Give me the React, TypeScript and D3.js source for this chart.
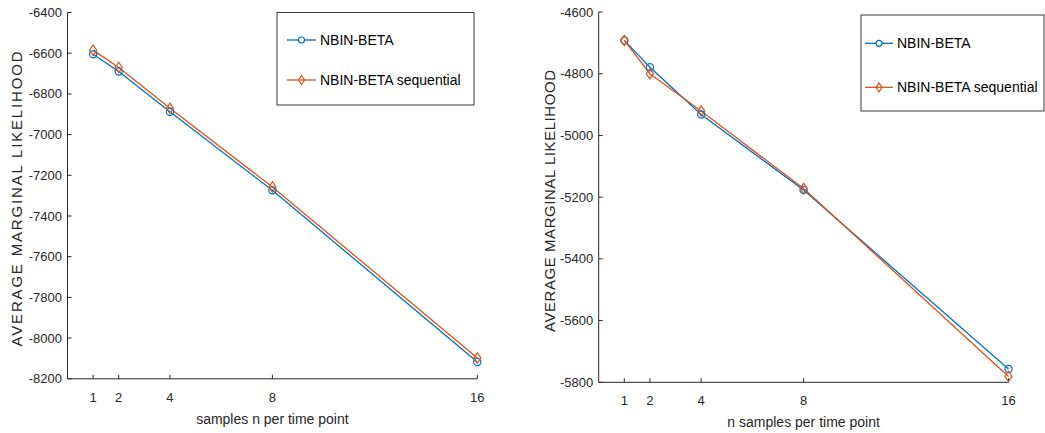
import React from "react";
import * as d3 from "d3";

const xValues = [1, 2, 4, 8, 16];
const xTicks = [1, 2, 4, 8, 16];

const leftSeriesA = [-6605, -6690, -6888, -7274, -8117];
const leftSeriesB = [-6585, -6670, -6871, -7257, -8098];
const leftYTicks = [-6400, -6600, -6800, -7000, -7200, -7400, -7600, -7800, -8000, -8200];

const rightSeriesA = [-4692, -4779, -4932, -5177, -5757];
const rightSeriesB = [-4692, -4800, -4921, -5172, -5781];
const rightYTicks = [-4600, -4800, -5000, -5200, -5400, -5600, -5800];

const seriesNames = ["NBIN-BETA", "NBIN-BETA sequential"];
const BLUE = "#0072BD";
const ORANGE = "#D95319";
const AX = "#262626";
const FONT = "'Liberation Sans', Arial, Helvetica, sans-serif";

type PanelProps = {
  px0: number; px1: number; py0: number; py1: number;
  yDomain: [number, number];
  yTicks: number[];
  a: number[]; b: number[];
  xlabel: string;
  ylabelX: number; ylabelY: number; ylabelLen: number;
  legend: { x0: number; x1: number; y0: number; y1: number; lx0: number; lx1: number; tx: number; ya: number; yb: number };
};

function Diamond({ cx, cy, w, h, color }: { cx: number; cy: number; w: number; h: number; color: string }) {
  return (
    <polygon
      points={`${cx},${cy - h} ${cx + w},${cy} ${cx},${cy + h} ${cx - w},${cy}`}
      fill="none"
      stroke={color}
      strokeWidth={1.2}
    />
  );
}

function Panel(p: PanelProps) {
  const x = d3.scaleLinear().domain([0, 16]).range([p.px0, p.px1]);
  const y = d3.scaleLinear().domain(p.yDomain).range([p.py0, p.py1]);
  const line = d3
    .line<number>()
    .x((_, i) => x(xValues[i]))
    .y((d) => y(d));
  const L = p.legend;
  const lm = (L.lx0 + L.lx1) / 2;
  return (
    <g fontFamily={FONT}>
      {/* axes */}
      <line x1={p.px0} x2={p.px0} y1={p.py0} y2={p.py1} stroke={AX} strokeWidth={1} />
      <line x1={p.px0} x2={p.px1} y1={p.py1} y2={p.py1} stroke={AX} strokeWidth={1} />
      {p.yTicks.map((t) => (
        <g key={t}>
          <line x1={p.px0} x2={p.px0 + 4} y1={y(t)} y2={y(t)} stroke={AX} />
          <text x={p.px0 - 5.5} y={y(t)} dy="0.35em" textAnchor="end" fontSize={13} fill={AX}>
            {t}
          </text>
        </g>
      ))}
      {xTicks.map((t) => (
        <g key={t}>
          <line x1={x(t)} x2={x(t)} y1={p.py1} y2={p.py1 - 4} stroke={AX} />
          <text x={x(t)} y={p.py1 + 23} textAnchor="middle" fontSize={13} fill={AX}>
            {t}
          </text>
        </g>
      ))}
      <text x={(p.px0 + p.px1) / 2} y={p.py1 + 45} textAnchor="middle" fontSize={14} fill={AX}>
        {p.xlabel}
      </text>
      <text
        transform={`translate(${p.ylabelX},${p.ylabelY}) rotate(-90)`}
        textAnchor="middle"
        dy="0.35em"
        fontSize={15}
        fill={AX}
        textLength={p.ylabelLen}
        lengthAdjust="spacing"
      >
        AVERAGE MARGINAL LIKELIHOOD
      </text>
      {/* series */}
      <path d={line(p.a) || ""} fill="none" stroke={BLUE} strokeWidth={1.3} />
      <path d={line(p.b) || ""} fill="none" stroke={ORANGE} strokeWidth={1.3} />
      {p.a.map((v, i) => (
        <circle key={"a" + i} cx={x(xValues[i])} cy={y(v)} r={3.6} fill="none" stroke={BLUE} strokeWidth={1.2} />
      ))}
      {p.b.map((v, i) => (
        <Diamond key={"b" + i} cx={x(xValues[i])} cy={y(v)} w={3.6} h={5.2} color={ORANGE} />
      ))}
      {/* legend */}
      <rect x={L.x0} y={L.y0} width={L.x1 - L.x0} height={L.y1 - L.y0} fill="white" stroke="#3a3a3a" strokeWidth={1} />
      <line x1={L.lx0} x2={L.lx1} y1={L.ya} y2={L.ya} stroke={BLUE} strokeWidth={1.3} />
      <circle cx={lm} cy={L.ya} r={3} fill="white" stroke={BLUE} strokeWidth={1.2} />
      <text x={L.tx} y={L.ya} dy="0.35em" fontSize={14} fill="#000">
        {seriesNames[0]}
      </text>
      <line x1={L.lx0} x2={L.lx1} y1={L.yb} y2={L.yb} stroke={ORANGE} strokeWidth={1.3} />
      <Diamond cx={lm} cy={L.yb} w={3} h={4.5} color={ORANGE} />
      <text x={L.tx} y={L.yb} dy="0.35em" fontSize={14} fill="#000">
        {seriesNames[1]}
      </text>
    </g>
  );
}

export default function App() {
  return (
    <svg
      width={1045}
      height={433}
      style={{ position: "absolute", left: 0, top: 0, background: "white" }}
    >
      <rect width={1045} height={433} fill="white" />
      <Panel
        px0={67.5}
        px1={477.3}
        py0={12.5}
        py1={378.8}
        yDomain={[-6400, -8200]}
        yTicks={leftYTicks}
        a={leftSeriesA}
        b={leftSeriesB}
        xlabel="samples n per time point"
        ylabelX={17}
        ylabelY={199}
        ylabelLen={295}
        legend={{ x0: 277, x1: 474, y0: 12.5, y1: 105, lx0: 287, lx1: 316, tx: 320, ya: 40, yb: 80 }}
      />
      <Panel
        px0={598.7}
        px1={1008.5}
        py0={12}
        py1={382.3}
        yDomain={[-4600, -5800]}
        yTicks={rightYTicks}
        a={rightSeriesA}
        b={rightSeriesB}
        xlabel="n samples per time point"
        ylabelX={549.5}
        ylabelY={201}
        ylabelLen={262}
        legend={{ x0: 861, x1: 1044, y0: 15, y1: 111, lx0: 865, lx1: 893, tx: 897, ya: 43.3, yb: 87.3 }}
      />
    </svg>
  );
}
